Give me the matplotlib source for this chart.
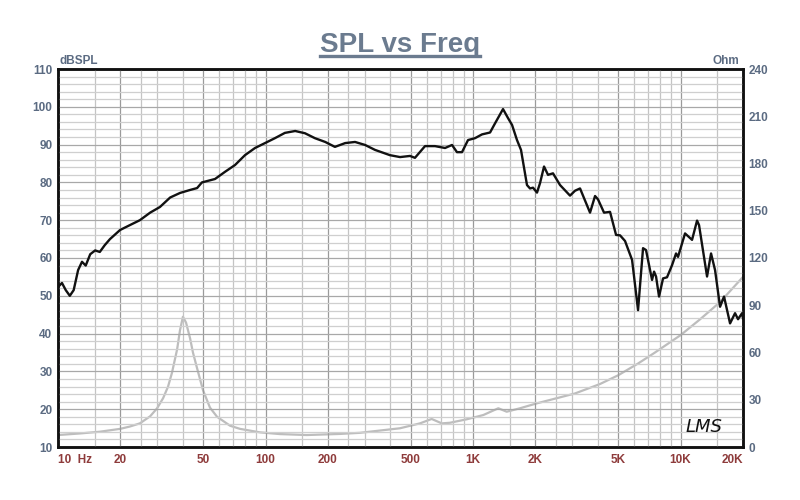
import numpy as np
import matplotlib
matplotlib.use("Agg")
import matplotlib.pyplot as plt
from matplotlib.lines import Line2D

# ---- data ----
spl_freq = [10, 10.45, 10.9, 11.4, 11.9, 12.5, 13.05, 13.6, 14.3, 15.1, 15.9, 16.8, 17.8, 19.9,
            22.2, 24.8, 27.8, 31, 34.7, 38.7, 43.3, 46.8, 49.4, 57.1, 63.8, 71.3, 79.6, 89, 99.4,
            111, 124, 139, 155, 173, 194, 216, 242, 270, 302, 337, 398, 445, 497, 525, 587, 656,
            733, 792, 837, 885, 946, 1022, 1105, 1208, 1276, 1395, 1475, 1542, 1629, 1703, 1820,
            1882, 1946, 2034, 2103, 2199, 2298, 2429, 2626, 2934, 3102, 3279, 3663, 3873, 4003,
            4279, 4574, 4890, 5110, 5402, 5840, 6241, 6597, 6818, 7290, 7454, 7621, 7878, 8236,
            8608, 9100, 9513, 9726, 10513, 11363, 12012, 12281, 13420, 14030, 14668, 15504,
            16203, 17324, 18311, 18928, 19790, 20000]
spl_db = [52.3, 53.4, 51.5, 50.0, 51.5, 56.8, 59.0, 58.0, 61.0, 62.0, 61.6, 63.4, 65.0, 67.4,
          68.7, 70.0, 72.0, 73.5, 76.0, 77.2, 78.0, 78.5, 80.0, 80.9, 82.8, 84.6, 87.2, 89.1, 90.4,
          91.7, 93.1, 93.6, 93.0, 91.7, 90.7, 89.4, 90.4, 90.7, 89.9, 88.6, 87.2, 86.7, 87.0, 86.5,
          89.6, 89.6, 89.1, 89.9, 88.0, 88.0, 91.2, 91.7, 92.7, 93.2, 95.6, 99.4, 97.0, 95.2, 91.2,
          88.6, 79.3, 78.4, 78.6, 77.3, 79.8, 84.2, 82.0, 82.4, 79.3, 76.5, 77.8, 78.4, 72.0, 76.4,
          75.5, 72.0, 72.2, 66.1, 66.0, 64.5, 59.5, 46.2, 62.6, 62.1, 54.2, 56.4, 55.1, 49.8, 54.6,
          54.9, 58.1, 61.2, 60.3, 66.5, 64.8, 69.9, 68.7, 55.1, 61.2, 56.8, 47.1, 49.8, 42.7, 45.4,
          43.8, 45.4, 44.0]

imp_freq = [10, 12.76, 15.9, 19.9, 22.2, 24.8, 27.8, 30.0, 32.1, 33.9, 35.4, 37.5, 38.7, 40.0,
            41.4, 43.3, 44.7, 46.8, 50, 54, 58.4, 67.5, 75.4, 94, 117.5, 158, 228.6, 285, 445,
            555, 632, 707, 775, 933, 1121, 1324, 1453, 1685, 2028, 3102, 4093, 5000, 6241, 7534,
            10000, 12400, 15504, 20000]
imp_ohm = [7.6, 8.6, 9.7, 11.5, 13.0, 15.0, 19.5, 24.5, 31.0, 38.3, 47.0, 62.0, 74.0, 82.7,
           79.0, 69.0, 60.0, 50.0, 36.0, 25.0, 19.2, 13.5, 11.5, 9.3, 8.2, 7.6, 8.3, 9.0, 11.9,
           15.0, 17.8, 15.0, 15.4, 17.6, 20.3, 24.6, 22.4, 24.6, 27.7, 34.0, 40.0, 45.5, 53.0, 60.0,
           71.0, 81.0, 92.0, 108.0]

x_ticks = [10, 20, 50, 100, 200, 500, 1000, 2000, 5000, 10000, 20000]
x_labels = ["10  Hz", "20", "50", "100", "200", "500", "1K", "2K", "5K", "10K", "20K"]
y_left_ticks = [10, 20, 30, 40, 50, 60, 70, 80, 90, 100, 110]
y_right_ticks = [0, 30, 60, 90, 120, 150, 180, 210, 240]

title = "SPL vs Freq"

# ---- styling ----
plt.rcParams['font.family'] = ['Liberation Sans', 'DejaVu Sans']
lab_blue = '#5b6b82'
lab_red = '#8e3b3b'

fig = plt.figure(figsize=(8, 5), dpi=100)
ax = fig.add_axes([58/800, 53/500, 685/800, 378/500])
ax.set_xscale('log')
ax.set_xlim(10, 20000)
ax.set_ylim(10, 110)

# grid
for dec in [10, 100, 1000, 10000]:
    for m in [1, 1.5, 2, 2.5, 3, 4, 5, 6, 7, 8, 9]:
        f = dec * m
        if 10 < f < 20000:
            dark = m in (1, 2, 5)
            ax.axvline(f, color='#9a9a9a' if dark else '#c4c4c4', lw=0.9, zorder=0)
for v in np.arange(12, 110, 2):
    dark = (v % 10 == 0)
    ax.axhline(v, color='#a8a8a8' if dark else '#cfcfcf', lw=0.9, zorder=0)

ax.plot(spl_freq, spl_db, color='#111111', lw=1.7, zorder=3)

ax2 = ax.twinx()
ax2.set_ylim(0, 240)
ax2.plot(imp_freq, imp_ohm, color='#bdbdbd', lw=1.6, zorder=2)
ax.set_zorder(ax2.get_zorder() + 1)
ax.patch.set_visible(False)

ax.set_xticks(x_ticks)
ax.set_xticklabels(x_labels)
ax.xaxis.set_minor_locator(matplotlib.ticker.NullLocator())
ax.set_yticks(y_left_ticks)
ax2.set_yticks(y_right_ticks)

ax.tick_params(axis='x', length=0, pad=5, labelsize=8.5, labelcolor=lab_red)
ax.tick_params(axis='y', length=0, pad=4, labelsize=8.5, labelcolor=lab_blue)
ax2.tick_params(axis='y', length=0, pad=4, labelsize=8.5, labelcolor=lab_blue)
for lab in ax.get_xticklabels() + ax.get_yticklabels() + ax2.get_yticklabels():
    lab.set_fontweight('bold')
lbls = ax.get_xticklabels()
lbls[0].set_horizontalalignment('left')
lbls[-1].set_horizontalalignment('right')

for a in (ax, ax2):
    for s in a.spines.values():
        s.set_color('#111111')
        s.set_linewidth(1.8)

fig.text(60/800, 1 - 67/500, "dBSPL", color=lab_blue, fontsize=8.5, fontweight='bold',
         ha='left', va='bottom')
fig.text(739/800, 1 - 67/500, "Ohm", color=lab_blue, fontsize=8.5, fontweight='bold',
         ha='right', va='bottom')

t = fig.text(0.5, 1 - 52/500, title, color='#6b7b8f', fontsize=20, fontweight='bold',
             ha='center', va='baseline')
fig.canvas.draw()
bb = t.get_window_extent()
x0, x1 = bb.x0 / 800, bb.x1 / 800
fig.add_artist(Line2D([x0, x1], [1 - 56/500, 1 - 56/500], color='#6b7b8f', lw=2.4))

ax.text(0.97, 0.03, "LMS", transform=ax.transAxes, fontsize=13, fontstyle='italic',
        family='DejaVu Sans', fontweight='light', color='#111111', ha='right', va='bottom',
        zorder=5)

fig.savefig('out.png', dpi=100, facecolor='white')
